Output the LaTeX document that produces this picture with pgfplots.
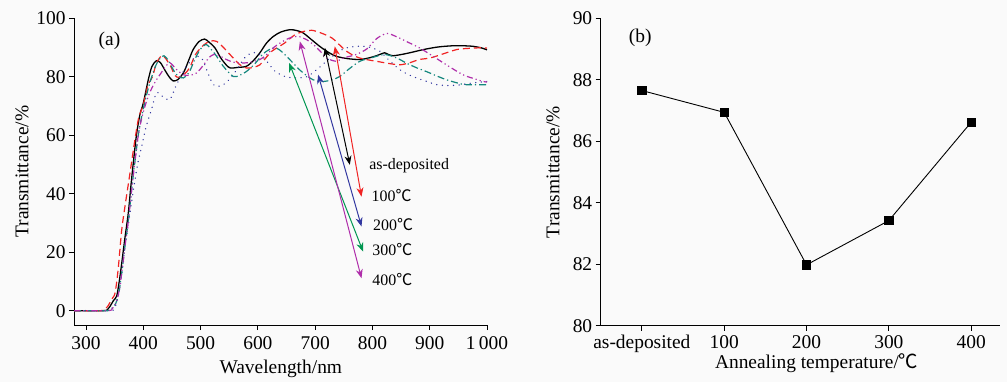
\documentclass[border=0pt]{standalone}
\usepackage{fontspec}
\setmainfont{Liberation Serif}
\newfontfamily\cjk{Noto Sans CJK SC}
\usepackage{pgfplots}
\usepackage{pgfplotstable}
\pgfplotsset{compat=1.18}
\usetikzlibrary{arrows.meta}
\definecolor{bg}{RGB}{250,250,250}
\definecolor{cred}{RGB}{240,35,35}
\definecolor{cblue}{RGB}{50,55,160}
\definecolor{cteal}{RGB}{20,135,125}
\definecolor{cmag}{RGB}{175,45,170}
\definecolor{agreen}{RGB}{0,150,80}
\newcommand{\degC}{{\cjk ℃}}

\pgfplotstableread{
x y
279 0
330 0
338 0.5
342 1.5
348 3.5
353.5 5
358 10
362.3 16.2
368 25
373.8 33.4
378 42
382.5 50.5
388 60
394 67
400 71
408.7 79
415 83.5
423 85.5
430 84.8
437 82.5
445 80
452 78.6
460 79
470 81.3
480 86
487 89.3
497 92
507 92.9
515 91.8
525 89.9
535 86.5
545 84
552 83
565 83.2
580 83.6
592 85.5
603.5 88.2
615 91.5
627 93.8
640 95.3
656 96.1
668 95.8
679 95
693 92.8
708 90.4
722 88.5
737 87
757 86.2
778 85.9
795 86.5
807 87.2
815 87.8
821.5 88.2
828 87.6
836 87.2
850 87.6
865 88.2
880 88.9
894 89.5
915 90.2
940 90.6
960 90.6
976 90.4
990 89.9
1000 89.2
}\tabA

\pgfplotstableread{
x y
279 0
325 0
332 0.5
338 1.5
345 4
350.6 6
356 14
362.3 27.6
369 37
376.7 47
385 58
392 66
400 70.4
408 77
416 80
423 84.7
432 87.2
438 86.5
447.7 83.6
455 80.5
462 79.8
472 81
481 83.1
491 87.6
505 90.8
517 92.2
528 92.1
540 90
557 86.4
568 84.2
580 83
592 83.2
603.5 84.1
612 86
624 88.7
636 90.2
647 91.6
665 94.4
680 95.5
694 95.9
710 95
729 93.3
742 91
755 88.7
767 87.3
778 86.4
792 85.8
807 85.3
827 84.6
848 84.1
865 84.8
882 85.9
900 86.4
920 87.6
947 89.3
967 89.7
987 89.9
1000 89.8
}\tabB

\pgfplotstableread{
x y
279 0
338 0
347.6 0.2
353 2.5
359.3 8.2
364 15
368 21.9
372 27
376.7 33.4
381 39
385.5 44.8
391 51
397.2 56.2
405 63
414.6 69
423 74.5
432 73.5
446 72.2
458 77.3
475.6 83.6
493 87
503 86
510.5 82.4
520 78
528 76.7
540 77.3
552 79.5
563 82.4
577 86.5
590 88.2
600 88
610 86.5
618 84.7
630 81.9
647 80.1
665 79.6
685 80
700 82
715 84.5
730 87
750 89.6
772 90.4
787 90.4
800 89.8
813 88.7
830 85.5
848 82.4
862 80.8
877 79.6
895 78.4
912 77.3
930 77
947 77.1
962 77.5
976 77.9
1000 78.4
}\tabC

\pgfplotstableread{
x y
279 0
336 0
345 0.8
352 2.5
358 7
363 14
368 22
374 31
380 42
386 52
392 61
400 69
410 77
420 83
428 86
436 87.2
444 85.5
452 82.5
460 80.3
470 79.6
480 81.5
490 86
500 89.5
510 91
520 89
528 87
540 83.5
557 80.1
568 80.5
580 81.8
595 84.5
610 88
627 89.9
637 89.3
647 87.6
660 85
675 82
696 79
714 78.4
730 79
743 80.1
760 82.8
778 85.3
800 86.6
819 87.6
830 87.3
845 86.2
859 84.7
878 83
894 81.8
912 80.3
929 79
948 77.9
964 77.3
1000 77.3
}\tabD

\pgfplotstableread{
x y
279 0
338 0
346 0.8
352 2.5
358 7
363 14
368 22
374 31
380 42
386 52
392 61
400 68
410 74
420 78
430 81
440 83.8
447 84.7
458 82.5
470 80.7
480 80.5
493 81.3
505 84
515 86.6
523 87.6
533 87.2
545 85.9
557 85
569 84.7
585 84.9
603.5 85.9
615 87.5
627 89.9
641 91.8
656 93.3
670 93.8
684 92.8
697 91
709 88.7
720 86.4
737 85.3
750 86.5
770 87.5
790 89.5
807 93
825 94.8
842 93.7
859 92.1
882 89.9
906 87
929 84.1
958 80.7
980 79.2
993 78.4
1000 78.2
}\tabE

\pgfplotstableread{
x y
0 87.65
1 86.94
2 81.98
3 83.42
4 86.62
}\tabF

\pgfplotsset{
  myax/.style={
    scale only axis,
    axis x line*=bottom, axis y line*=left,
    axis line style={line width=0.9bp,-},
    every tick/.style={line width=0.8bp,black},
    tick align=outside,
    major tick length=5bp,
    /pgf/number format/assume math mode=true,
    tick label style={font=\fontsize{19.5}{22}\selectfont},
    label style={font=\fontsize{19.5}{22}\selectfont},
    xtick pos=bottom, ytick pos=left,
  }
}

\begin{document}
\begin{tikzpicture}
\fill[bg] (0,0) rectangle (1007bp,382bp);
\path[use as bounding box] (0,0) rectangle (1007bp,382bp);

\begin{axis}[myax,
  at={(74bp,57bp)}, anchor=south west,
  width=413bp, height=306.7bp,
  xmin=279, xmax=1000, ymin=-4.9, ymax=100,
  xtick={300,400,...,1000},
  xticklabels={300,400,500,600,700,800,900,1\,000},
  x tick label style={yshift=-3bp},
  ytick={0,20,...,100},
  xlabel={Wavelength/nm},
  ylabel={Transmittance/\%},
  xlabel style={at={(axis description cs:0.5007,-0.142)},anchor=center},
  ylabel style={at={(axis description cs:-0.126,0.5)},anchor=center},
]
\addplot[black, line width=1.3bp, smooth] table {\tabA};
\addplot[cred, line width=1.2bp, smooth, dash pattern=on 7bp off 4bp] table {\tabB};
\addplot[cblue, line width=1.4bp, smooth, line cap=round, dash pattern=on 0.1bp off 5.5bp] table {\tabC};
\addplot[cteal, line width=1.2bp, smooth, dash pattern=on 7bp off 3bp on 1.2bp off 3bp] table {\tabD};
\addplot[cmag, line width=1.2bp, smooth, dash pattern=on 6bp off 3bp on 1.2bp off 3bp on 1.2bp off 3bp] table {\tabE};

\node[font=\fontsize{19.5}{22}\selectfont] at (axis cs:341,92.4) {(a)};

\tikzset{arr/.style={line width=1bp, {Stealth[length=9bp,width=7bp]}-{Stealth[length=9bp,width=7bp]}}}
\draw[arr, black] (axis cs:716.9,89.9) -- (axis cs:760.5,49.9);
\draw[arr, cred] (axis cs:734.3,90.4) -- (axis cs:780.9,39.0);
\draw[arr, cblue] (axis cs:705.2,80.7) -- (axis cs:780.9,28.8);
\draw[arr, agreen] (axis cs:654.7,84.7) -- (axis cs:783.7,20.2);
\draw[arr, cmag] (axis cs:673.3,92.1) -- (axis cs:780.9,11.1);

\begin{scope}[every node/.style={font=\fontsize{16}{18}\selectfont, anchor=west, inner sep=0pt}]
\node at (axis cs:794.2,49.6) {as-deposited};
\node at (axis cs:798.3,39.3) {100\degC};
\node at (axis cs:801,29.3) {200\degC};
\node at (axis cs:799.5,20.8) {300\degC};
\node at (axis cs:799.5,10.5) {400\degC};
\end{scope}
\end{axis}

\begin{axis}[myax,
  at={(600.7bp,56.3bp)}, anchor=south west,
  width=399.3bp, height=307.4bp,
  xmin=-0.5, xmax=4.35, ymin=80, ymax=90,
  xtick={0,1,2,3,4},
  xticklabels={as-deposited,100,200,300,400},
  x tick label style={yshift=-1bp},
  ytick={80,82,...,90},
  xlabel={Annealing temperature/\degC},
  ylabel={Transmittance/\%},
  xlabel style={at={(axis description cs:0.541,-0.122)},anchor=center,inner sep=0pt},
  ylabel style={at={(axis description cs:-0.1195,0.5)},anchor=center},
]
\addplot[black, line width=0.9bp, mark=square*, mark size=4.2bp, mark options={solid}] table {\tabF};
\node[font=\fontsize{19.5}{22}\selectfont] at (axis cs:-0.02,89.35) {(b)};
\end{axis}
\end{tikzpicture}
\end{document}
